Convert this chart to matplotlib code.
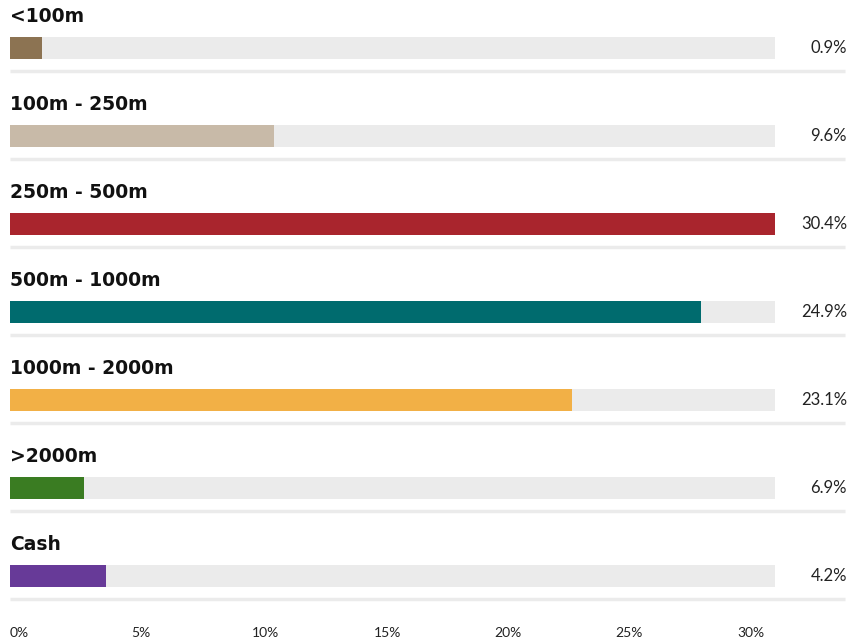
import numpy as np
import matplotlib.pyplot as plt

categories = ['<100m', '100m - 250m', '250m - 500m', '500m - 1000m',
              '1000m - 2000m', '>2000m', 'Cash']
share_labels = ['0.9%', '9.6%', '30.4%', '24.9%', '23.1%', '6.9%', '4.2%']
# bar lengths as drawn in the reference (axis units, %)
bar_len = [1.3, 10.9, 31.57, 28.5, 23.2, 3.05, 3.95]
colors = ['#8c7352', '#c8baa8', '#a9252d', '#006b6e', '#f2b046', '#3a7c22', '#673a98']
track_max = 31.57
ticks = [0, 5, 10, 15, 20, 25, 30]

W, H = 864, 639
fig = plt.figure(figsize=(W / 100, H / 100), dpi=100)
left, right, top, bottom = 10, 775, 0, 612
ax = fig.add_axes([left / W, 1 - bottom / H, (right - left) / W, (bottom - top) / H])

row_px = 88.0
first_px = 48.0
ax.set_xlim(0, track_max)
ax.set_ylim((bottom - first_px) / row_px, (top - first_px) / row_px)

y = np.arange(len(categories))
px = track_max / (right - left)  # data units per pixel

ax.barh(y, [track_max] * len(y), height=22 / row_px, color='#ebebeb', zorder=1)
ax.barh(y, bar_len, height=22 / row_px, color=colors, zorder=2)

for i, (cat, lab) in enumerate(zip(categories, share_labels)):
    ax.text(0, i - 32 / row_px, cat, ha='left', va='center', fontsize=13.5,
            fontweight='bold', family='DejaVu Sans', color='#111111', clip_on=False)
    ax.text((847 - left) * px, i, lab, ha='right', va='center', fontsize=12,
            family='Lato', color='#222222', clip_on=False)
    ax.plot([0, (845 - left) * px], [i + 23 / row_px] * 2, color='#ebebeb',
            lw=2.5, solid_capstyle='butt', clip_on=False, zorder=0)

ax.set_xticks(ticks)
ax.set_xticklabels([f'{t}%' for t in ticks], family='Lato', fontsize=10,
                   color='#222222', ha='left')
ax.tick_params(axis='x', length=0, pad=11)
ax.set_yticks([])
for s in ax.spines.values():
    s.set_visible(False)

plt.savefig('out.png', dpi=100)
